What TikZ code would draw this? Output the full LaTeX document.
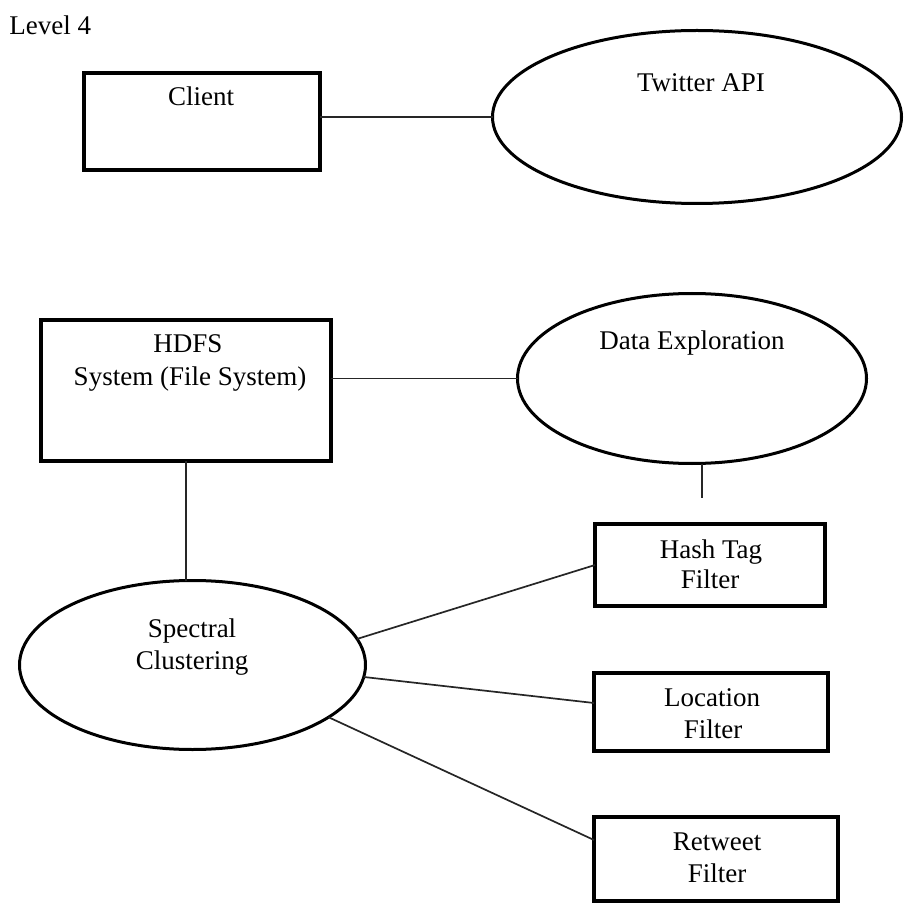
\documentclass[tikz,border=0pt]{standalone}
\usepackage{fontspec}
\setmainfont{Liberation Serif}
\usetikzlibrary{shapes.geometric}

\tikzset{
  boxnode/.style={draw, line width=2pt, rectangle, inner sep=0pt, outer sep=0pt},
  ovalnode/.style={draw, line width=1.5pt, ellipse, inner sep=0pt, outer sep=0pt},
  link/.style={line width=0.85pt, black!85},
  lbl/.style={anchor=base, inner sep=0pt, font=\fontsize{13.5}{16}\selectfont},
}

\begin{document}
\begin{tikzpicture}[x=0.5pt, y=-0.5pt]
\useasboundingbox (0,0) rectangle (904,903);

% title
\node[lbl, anchor=base west] (title) at (9,35) {Level 4};

% shapes
\node[boxnode, minimum width=118pt, minimum height=48.5pt] (client) at (202,121.5) {};
\node[ovalnode, minimum width=204.5pt, minimum height=86.5pt] (twitter) at (697,117) {};
\node[boxnode, minimum width=145pt, minimum height=70.5pt] (hdfs) at (186,390.5) {};
\node[ovalnode, minimum width=174.5pt, minimum height=85pt] (explore) at (692,378.5) {};
\node[ovalnode, minimum width=173pt, minimum height=84.5pt] (spectral) at (192.5,665) {};
\node[boxnode, minimum width=115pt, minimum height=41pt] (hashtag) at (710,565) {};
\node[boxnode, minimum width=117pt, minimum height=39pt] (location) at (711,712) {};
\node[boxnode, minimum width=122pt, minimum height=42pt] (retweet) at (716,859) {};

% labels
\node[lbl] (client-t) at (201,106) {Client};
\node[lbl] (twitter-t) at (701,92) {Twitter API};
\node[lbl] (hdfs-t1) at (188,353) {HDFS};
\node[lbl] (hdfs-t2) at (190,386) {System (File System)};
\node[lbl] (explore-t) at (692,350) {Data Exploration};
\node[lbl] (spectral-t1) at (192,637) {Spectral};
\node[lbl] (spectral-t2) at (192,669) {Clustering};
\node[lbl] (hashtag-t1) at (711,558) {Hash Tag};
\node[lbl] (hashtag-t2) at (710,588) {Filter};
\node[lbl] (location-t1) at (712,706) {Location};
\node[lbl] (location-t2) at (713,738) {Filter};
\node[lbl] (retweet-t1) at (717,850) {Retweet};
\node[lbl] (retweet-t2) at (717,882) {Filter};

% connectors
\coordinate (stub) at (702,498);
\draw[link] (twitter.west) -- (twitter.west -| client.east);
\draw[link] (explore.west) -- (explore.west -| hdfs.east);
\draw[link] (hdfs.south) -- (hdfs.south |- spectral.north);
\draw[link] (stub |- explore.south) -- (stub);
\draw[link] (spectral.9.5) -- (hashtag.west);
\draw[link] (spectral.-4.9) -- ([yshift=4.5pt]location.west);
\draw[link] (spectral.-21.8) -- ([yshift=9.5pt]retweet.west);
\end{tikzpicture}
\end{document}
